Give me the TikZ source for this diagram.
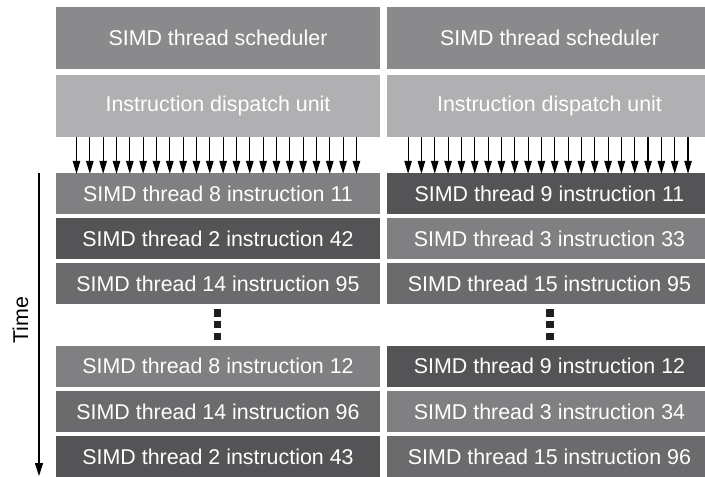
\documentclass[tikz,border=0pt]{standalone}
\usepackage{fontspec}
\setmainfont{Liberation Sans}
\usetikzlibrary{arrows.meta}
\definecolor{schedgray}{RGB}{138,138,141}
\definecolor{dispgray}{RGB}{176,176,178}
\definecolor{lightrow}{RGB}{128,128,131}
\definecolor{midrow}{RGB}{107,107,110}
\definecolor{darkrow}{RGB}{84,84,87}
\begin{document}
\begin{tikzpicture}[x=1pt,y=-1pt,
  box/.style={draw=none,inner sep=0pt,text=white,
    font=\fontsize{21.4}{25}\selectfont},
  lbox/.style={box,minimum width=324pt},
  rbox/.style={box,minimum width=325pt},
  hdr/.style={minimum height=62pt},
  row/.style={minimum height=41pt},
  arr/.style={line width=1.1pt,-{Triangle[length=13pt,width=7.5pt]}},
  timearr/.style={line width=1.1pt,-{Triangle[length=13pt,width=8pt]}},
  dot/.style={fill=black!88,minimum size=7.5pt,inner sep=0pt,draw=none},
  lbl/.style={inner sep=0pt,font=\fontsize{21.4}{25}\selectfont}]
\useasboundingbox (0,0) rectangle (705,477);
% headers
\node[lbox,hdr,fill=schedgray] (schL) at (218,38) {SIMD thread scheduler};
\node[rbox,hdr,fill=schedgray] (schR) at (549.5,38) {SIMD thread scheduler};
\node[lbox,hdr,fill=dispgray] (disL) at (218,106) {Instruction dispatch unit};
\node[rbox,hdr,fill=dispgray] (disR) at (549.5,106) {Instruction dispatch unit};
% left rows
\node[lbox,row,fill=lightrow] (l1) at (218,193.5) {SIMD thread 8 instruction 11};
\node[lbox,row,fill=darkrow]  (l2) at (218,238.5) {SIMD thread 2 instruction 42};
\node[lbox,row,fill=midrow]   (l3) at (218,283.5) {SIMD thread 14 instruction 95};
\node[lbox,row,fill=lightrow] (l4) at (218,366) {SIMD thread 8 instruction 12};
\node[lbox,row,fill=midrow]   (l5) at (218,411.5) {SIMD thread 14 instruction 96};
\node[lbox,row,fill=darkrow]  (l6) at (218,456.5) {SIMD thread 2 instruction 43};
% right rows
\node[rbox,row,fill=darkrow]  (r1) at (549.5,193.5) {SIMD thread 9 instruction 11};
\node[rbox,row,fill=lightrow] (r2) at (549.5,238.5) {SIMD thread 3 instruction 33};
\node[rbox,row,fill=midrow]   (r3) at (549.5,283.5) {SIMD thread 15 instruction 95};
\node[rbox,row,fill=darkrow]  (r4) at (549.5,366) {SIMD thread 9 instruction 12};
\node[rbox,row,fill=lightrow] (r5) at (549.5,411.5) {SIMD thread 3 instruction 34};
\node[rbox,row,fill=midrow]   (r6) at (549.5,456.5) {SIMD thread 15 instruction 96};
% dispatch arrows
\foreach \i in {0,...,21}{
  \draw[arr] ([xshift={20.7pt+\i*13.33pt}]disL.south west) -- ([xshift={20.7pt+\i*13.33pt},yshift=-1pt]l1.north west);
  \draw[arr] ([xshift={21.3pt+\i*13.33pt}]disR.south west) -- ([xshift={21.3pt+\i*13.33pt},yshift=-1pt]r1.north west);
}
% ellipsis dots
\foreach \y/\n in {313/a,324.5/b,336.5/c}{
  \node[dot] (dl\n) at (217.5,\y) {};
  \node[dot] (dr\n) at (550,\y) {};
}
% time axis
\coordinate (t0) at (39,173);
\coordinate (t1) at (39,476);
\draw[timearr] (t0) -- (t1);
\node[lbl,rotate=90] (time) at (20.5,320) {Time};
\end{tikzpicture}
\end{document}
